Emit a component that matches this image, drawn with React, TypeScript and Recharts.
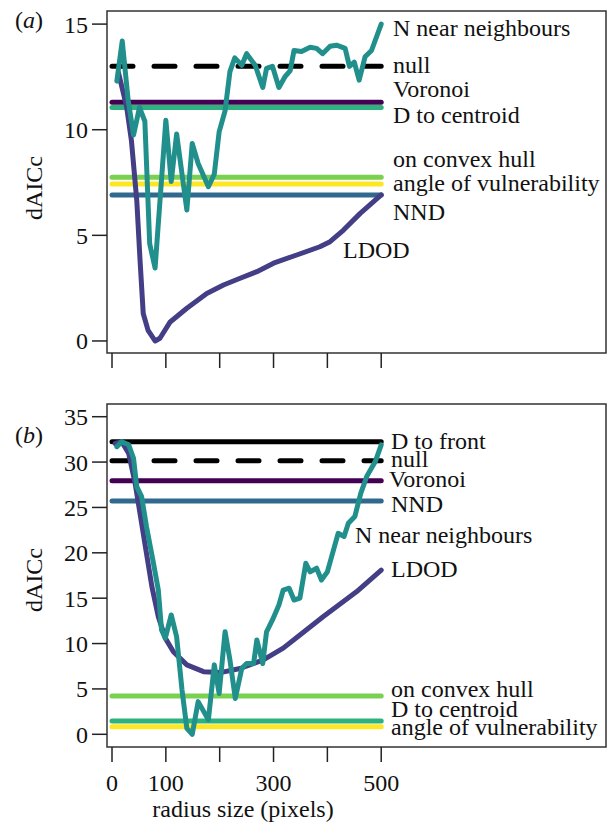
import React from "react";
import { LineChart, Line, XAxis, YAxis, ReferenceArea } from "recharts";

// radius axis
const radiusTicks = [0, 100, 200, 300, 400, 500];
const radiusLabelled = [0, 100, 300, 500];
const lineSpan = [0, 500];

// panel (a)
const ticksA = [0, 5, 10, 15];
const nnAx = [9, 19, 30, 40, 51, 61, 70, 80, 100, 110, 120, 139, 149, 160, 179, 190, 199, 210, 219, 228, 241, 250, 266, 280, 287, 298, 310, 321, 331, 338, 352, 368, 380, 391, 405, 417, 433, 441, 450, 459, 470, 482, 500];
const nnAy = [12.3, 14.2, 11.4, 9.75, 11.05, 10.4, 4.6, 3.45, 10.45, 7.55, 9.8, 6.2, 9.35, 8.4, 7.3, 7.9, 9.9, 10.9, 12.75, 13.4, 13.05, 13.6, 13.05, 12.0, 12.9, 13.0, 12.0, 12.5, 12.8, 13.75, 13.7, 13.9, 13.85, 13.6, 13.95, 14.0, 13.85, 13.0, 13.2, 12.35, 13.45, 13.75, 15.0];
const ldodAx = [12, 27, 36, 46, 52, 58, 67, 80, 89, 108, 139, 176, 207, 238, 269, 300, 343, 386, 405, 430, 461, 500];
const ldodAy = [12.7, 11.1, 9.5, 6.65, 3.85, 1.3, 0.5, 0, 0.13, 0.9, 1.55, 2.25, 2.65, 2.97, 3.28, 3.68, 4.07, 4.46, 4.7, 5.25, 6.04, 6.91];
const flatNamesA = ["on convex hull", "angle of vulnerability", "NND", "D to centroid", "Voronoi", "null"];
const flatValuesA = [7.75, 7.43, 6.91, 11.05, 11.3, 13.0];

// panel (b)
const ticksB = [0, 5, 10, 15, 20, 25, 30, 35];
const nnBx = [9, 18, 31, 40, 46, 55, 64, 77, 86, 92, 99, 110, 120, 130, 139, 149, 160, 179, 190, 199, 210, 219, 229, 241, 250, 263, 269, 280, 287, 298, 310, 318, 329, 338, 349, 360, 368, 380, 389, 400, 420, 431, 439, 451, 462, 473, 489, 500];
const nnBy = [31.7, 32.25, 31.9, 30.4, 27.3, 26.2, 22.9, 18.85, 15.9, 11.5, 10.6, 13.15, 10.75, 4.9, 0.65, 0, 3.6, 1.6, 7.65, 4.5, 11.3, 8.2, 3.95, 7.25, 7.8, 7.8, 10.4, 7.8, 11.3, 12.6, 14.25, 15.9, 16.1, 14.8, 15.0, 18.85, 17.9, 18.3, 17.0, 17.9, 22.15, 21.8, 23.25, 24.0, 26.55, 28.4, 30.05, 31.9];
const ldodBx = [6, 18, 31, 43, 52, 61, 74, 86, 99, 114, 139, 170, 201, 238, 281, 318, 349, 392, 454, 500];
const ldodBy = [32.05, 32.25, 30.95, 27.65, 24.35, 21.05, 16.3, 12.95, 10.6, 9.1, 7.65, 6.9, 6.8, 7.25, 8.2, 9.5, 10.95, 12.95, 15.7, 18.1];
const flatNamesB = ["angle of vulnerability", "D to centroid", "on convex hull", "NND", "Voronoi", "null", "D to front"];
const flatValuesB = [0.84, 1.47, 4.22, 25.7, 27.95, 30.15, 32.25];

const colors: Record<string, string> = {
  "N near neighbours": "#21908c",
  LDOD: "#433e85",
  "on convex hull": "#7ad151",
  "angle of vulnerability": "#fde725",
  NND: "#31688e",
  "D to centroid": "#2db27d",
  Voronoi: "#440154",
  null: "#000000",
  "D to front": "#000000",
};

const FONT = "'Liberation Serif', 'DejaVu Serif', serif";
const FS = 24;

const pts = (xs: number[], ys: number[]) => xs.map((x, i) => ({ x, y: ys[i] }));
const flat = (v: number) => lineSpan.map((x) => ({ x, y: v }));

// text placement (pixels)
const labelsA = [
  { t: "N near neighbours", x: 393, y: 36 },
  { t: "null", x: 393, y: 73 },
  { t: "Voronoi", x: 393, y: 97 },
  { t: "D to centroid", x: 393, y: 123 },
  { t: "on convex hull", x: 393, y: 167 },
  { t: "angle of vulnerability", x: 393, y: 191 },
  { t: "NND", x: 393, y: 220 },
  { t: "LDOD", x: 343, y: 258 },
];
const labelsB = [
  { t: "D to front", x: 391, y: 449 },
  { t: "null", x: 391, y: 467 },
  { t: "Voronoi", x: 389, y: 487 },
  { t: "NND", x: 391, y: 512 },
  { t: "N near neighbours", x: 355, y: 543 },
  { t: "LDOD", x: 391, y: 577 },
  { t: "on convex hull", x: 391, y: 697 },
  { t: "D to centroid", x: 391, y: 717 },
  { t: "angle of vulnerability", x: 391, y: 735 },
];

const xDomain = [-9.3, 917.5];

interface PanelProps {
  top: number;
  height: number;
  marginTop: number;
  axisHeight: number;
  yDomain: number[];
  yTicks: number[];
  flatNames: string[];
  flatValues: number[];
  ldod: { x: number; y: number }[];
  nn: { x: number; y: number }[];
  showXLabels: boolean;
}

const Panel: React.FC<PanelProps> = (p) => {
  const tickStyle = { fontSize: FS, fontFamily: FONT, fill: "#111" };
  return (
    <div style={{ position: "absolute", left: 0, top: p.top, fontFamily: FONT }}>
      <LineChart
        width={609}
        height={p.height}
        margin={{ top: p.marginTop, right: 3, left: 0, bottom: 0 }}
        style={{ fontFamily: FONT }}
      >
        <XAxis
          type="number"
          dataKey="x"
          domain={xDomain}
          ticks={radiusTicks}
          allowDataOverflow
          axisLine={false}
          tickSize={15}
          tickMargin={12}
          height={p.axisHeight}
          tickLine={{ stroke: "#222", strokeWidth: 1.5 }}
          tick={tickStyle}
          tickFormatter={(v: number) =>
            p.showXLabels && radiusLabelled.includes(v) ? String(v) : ""
          }
        />
        <YAxis
          type="number"
          dataKey="y"
          domain={p.yDomain}
          ticks={p.yTicks}
          allowDataOverflow
          axisLine={false}
          tickSize={15}
          tickMargin={4}
          width={107}
          tickLine={{ stroke: "#222", strokeWidth: 1.5 }}
          tick={tickStyle}
        />
        {p.flatNames.map((name, i) => (
          <Line
            key={name}
            data={flat(p.flatValues[i])}
            dataKey="y"
            stroke={colors[name]}
            strokeWidth={5}
            strokeLinecap="round"
            strokeDasharray={name === "null" ? "21 21" : undefined}
            dot={false}
            isAnimationActive={false}
          />
        ))}
        <Line
          data={p.ldod}
          dataKey="y"
          stroke={colors.LDOD}
          strokeWidth={5}
          strokeLinecap="round"
          strokeLinejoin="round"
          dot={false}
          isAnimationActive={false}
        />
        <Line
          data={p.nn}
          dataKey="y"
          stroke={colors["N near neighbours"]}
          strokeWidth={5}
          strokeLinecap="round"
          strokeLinejoin="round"
          dot={false}
          isAnimationActive={false}
        />
        <ReferenceArea
          x1={xDomain[0]}
          x2={xDomain[1]}
          y1={p.yDomain[0]}
          y2={p.yDomain[1]}
          fill="none"
          stroke="#333"
          strokeWidth={1.5}
          ifOverflow="visible"
        />
      </LineChart>
    </div>
  );
};

export default function App() {
  const txt = { fontSize: FS, fill: "#111", style: { fontFamily: FONT } };
  return (
    <div style={{ position: "absolute", left: 0, top: 0, width: 609, height: 823, background: "#fff", fontFamily: FONT }}>
      <Panel
        top={0}
        height={380}
        marginTop={11}
        axisHeight={27}
        yDomain={[-0.57, 15.62]}
        yTicks={ticksA}
        flatNames={flatNamesA}
        flatValues={flatValuesA}
        ldod={pts(ldodAx, ldodAy)}
        nn={pts(nnAx, nnAy)}
        showXLabels={false}
      />
      <Panel
        top={390}
        height={433}
        marginTop={14}
        axisHeight={76}
        yDomain={[-1.4, 36.4]}
        yTicks={ticksB}
        flatNames={flatNamesB}
        flatValues={flatValuesB}
        ldod={pts(ldodBx, ldodBy)}
        nn={pts(nnBx, nnBy)}
        showXLabels={true}
      />
      <svg
        width={609}
        height={823}
        style={{ position: "absolute", left: 0, top: 0, pointerEvents: "none" }}
      >
        {[...labelsA, ...labelsB].map((l, i) => (
          <text key={i} x={l.x} y={l.y} {...txt}>
            {l.t}
          </text>
        ))}
        <text x={15} y={28} {...txt}>
          (<tspan fontStyle="italic">a</tspan>)
        </text>
        <text x={15} y={443} {...txt}>
          (<tspan fontStyle="italic">b</tspan>)
        </text>
        <text x={42} y={188} textAnchor="middle" transform="rotate(-90, 42, 188)" {...txt}>
          dAICc
        </text>
        <text x={42} y={580} textAnchor="middle" transform="rotate(-90, 42, 580)" {...txt}>
          dAICc
        </text>
        <text x={243} y={817} textAnchor="middle" {...txt}>
          radius size (pixels)
        </text>
      </svg>
    </div>
  );
}
